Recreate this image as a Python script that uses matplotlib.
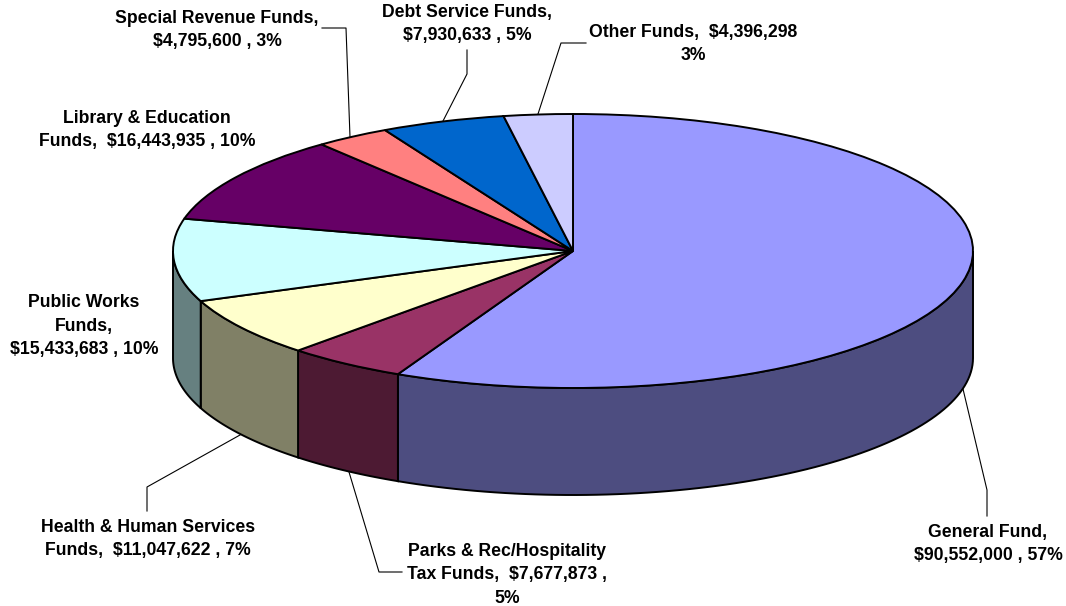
import numpy as np
import matplotlib
matplotlib.use('Agg')
import matplotlib.pyplot as plt

plt.rcParams['font.family'] = ['Liberation Sans', 'DejaVu Sans']

# values in slice order, clockwise from 12 o'clock
funds = ['General Fund', 'Parks & Rec/Hospitality Tax Funds', 'Health & Human Services Funds',
         'Public Works Funds', 'Library & Education Funds', 'Special Revenue Funds',
         'Debt Service Funds', 'Other Funds']
amounts = [90552000, 7677873, 11047622, 15433683, 16443935, 4795600, 7930633, 4396298]
top_colors = ['#9999FF', '#993366', '#FFFFCC', '#CCFFFF', '#660066', '#FF8080', '#0066CC', '#CCCCFF']
side_colors = ['#4D4D80', '#4D1A33', '#808066', '#668080', '#330033', '#804040', '#003366', '#666680']

labels = ['General Fund,\n$90,552,000 , 57%',
          'Parks & Rec/Hospitality\nTax Funds,  $7,677,873 ,\n5%',
          'Health & Human Services\nFunds,  $11,047,622 , 7%',
          'Public Works\nFunds,\n$15,433,683 , 10%',
          'Library & Education\nFunds,  $16,443,935 , 10%',
          'Special Revenue Funds,\n$4,795,600 , 3%',
          'Debt Service Funds,\n$7,930,633 , 5%',
          'Other Funds,  $4,396,298\n3%']
label_x = [988, 507, 148, 84, 147, 217, 467, 693]
label_y = [544, 575, 539, 326, 130, 30, 24, 44]

leader_x = [[963, 987, 987], [349, 379, 402], [240, 147, 147], [], [], [322, 346, 350],
            [467, 467, 443], [586, 561, 538]]
leader_y = [[389, 490, 516], [472, 572, 572], [435, 487, 511], [], [], [28, 28, 137],
            [50, 74, 121], [43, 43, 114]]

W, H = 1066, 606
cx, cy = 573, 251
rx, ry = 400, 137
depth = 107

fig = plt.figure(figsize=(W / 100, H / 100), dpi=100)

# axes box = bounding box of the top ellipse, so the pie gets squashed
ax = fig.add_axes([(cx - rx) / W, (H - cy - ry) / H, 2 * rx / W, 2 * ry / H])
ax.pie(amounts, colors=top_colors, startangle=90, counterclock=False, radius=1,
       wedgeprops=dict(edgecolor='black', linewidth=1.4, clip_on=False, zorder=3))
ax.set_aspect('auto')
ax.set_xlim(-1, 1)
ax.set_ylim(-1, 1)

# outer wall, only the part facing the viewer
edges = np.cumsum([0] + amounts) / sum(amounts) * 2 * np.pi
d = depth / ry
for i in range(len(amounts)):
    a = max(edges[i], np.pi / 2)
    b = min(edges[i + 1], 3 * np.pi / 2)
    if a >= b:
        continue
    t = np.linspace(a, b, 80)
    x = np.sin(t)
    y = np.cos(t)
    ax.fill(np.r_[x, x[::-1]], np.r_[y, y[::-1] - d], facecolor=side_colors[i],
            edgecolor='black', linewidth=1.4, clip_on=False, zorder=2)

# labels and leader lines in pixel coordinates
over = fig.add_axes([0, 0, 1, 1])
over.set_xlim(0, W)
over.set_ylim(H, 0)
over.axis('off')
over.patch.set_alpha(0)
for i in range(len(funds)):
    over.text(label_x[i], label_y[i], labels[i], ha='center', va='center', fontsize=12.7,
              fontweight='bold', color='black', linespacing=1.5)
    if leader_x[i]:
        over.plot(leader_x[i], leader_y[i], color='black', linewidth=0.8)

fig.savefig('out.png', dpi=100)
